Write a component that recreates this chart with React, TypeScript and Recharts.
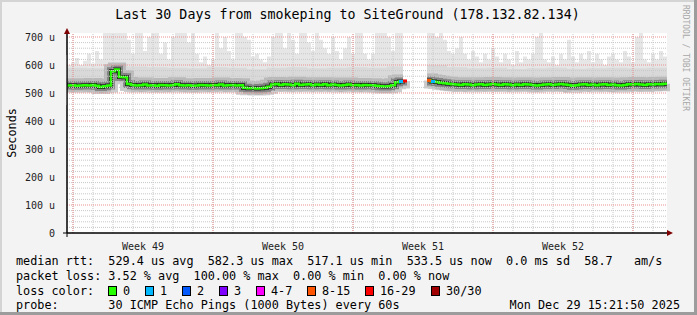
import React from "react";
import { ComposedChart, Area, Line, XAxis, YAxis, CartesianGrid, ReferenceLine } from "recharts";

const MONO = "'DejaVu Sans Mono', monospace";

// one sample every 0.2 day (4.8 h), 30 days
const median: (number | null)[] = [
  527, 528, 526, 527, 528, 527, 529, 526, 521, 524,
  527, 578, 584, 557, 556, 532, 529, 527, 528, 530,
  527, 528, 526, 529, 528, 527, 529, 531, 528, 527,
  528, 526, 527, 529, 528, 527, 529, 528, 530, 527,
  528, 529, 527, 528, 519, 517, 518, 516, 517, 519,
  522, 530, 532, 529, 531, 530, 528, 533, 529, 530,
  531, 528, 530, 529, 531, 528, 530, 529, 527, 529,
  530, 528, 529, 527, 529, 528, 528, 526, 524, 523,
  524, 528, 538, 541, 543, null, null, null, null, null,
  545, 541, 539, 537, 535, 533, 531, 530, 529, 531,
  530, 528, 530, 531, 529, 530, 532, 530, 529, 531,
  530, 528, 530, 529, 531, 530, 529, 527, 529, 530,
  531, 529, 530, 532, 530, 529, 526, 528, 530, 531,
  529, 530, 528, 530, 531, 529, 530, 528, 527, 529,
  531, 530, 532, 530, 529, 531, 530, 532, 531, 533,
  533,
];

const smokeLow: (number | null)[] = [
  505, 504, 505, 506, 505, 504, 505, 503, 500, 502,
  505, 565, 570, 545, 544, 510, 505, 506, 504, 505,
  507, 505, 504, 506, 505, 504, 506, 507, 505, 504,
  505, 503, 504, 506, 505, 504, 506, 505, 507, 504,
  505, 506, 504, 505, 496, 494, 495, 493, 494, 496,
  499, 507, 508, 506, 507, 506, 505, 508, 506, 507,
  508, 505, 507, 506, 508, 505, 507, 506, 504, 506,
  507, 505, 506, 504, 506, 505, 505, 503, 501, 500,
  501, 505, 514, 518, 520, null, null, null, null, null,
  522, 518, 514, 511, 509, 507, 506, 506, 507, 505,
  507, 508, 506, 507, 506, 508, 507, 506, 507, 508,
  505, 507, 506, 507, 508, 506, 505, 504, 506, 507,
  508, 506, 507, 506, 503, 505, 507, 508, 506, 507,
  505, 507, 508, 506, 507, 505, 504, 506, 508, 507,
  508, 506, 507, 506, 508, 507, 506, 508, 507, 509,
  509,
];

const smokeHigh: (number | null)[] = [
  600, 610, 625, 600, 615, 640, 605, 650, 620, 714,
  714, 714, 714, 714, 714, 690, 640, 714, 714, 650,
  700, 714, 714, 640, 680, 620, 700, 714, 714, 714,
  680, 714, 640, 610, 630, 600, 620, 714, 660, 700,
  650, 620, 714, 714, 700, 690, 630, 640, 620, 610,
  630, 700, 714, 714, 660, 714, 690, 640, 714, 714,
  680, 650, 714, 690, 660, 640, 700, 650, 620, 660,
  700, 640, 714, 714, 640, 620, 640, 714, 714, 714,
  700, 650, 714, 714, 714, null, null, null, null, null,
  714, 714, 700, 714, 690, 650, 640, 660, 700, 640,
  620, 650, 630, 610, 640, 620, 660, 630, 610, 640,
  620, 600, 650, 610, 630, 620, 640, 700, 714, 620,
  610, 630, 600, 640, 620, 690, 630, 610, 640, 620,
  650, 610, 640, 620, 600, 630, 640, 620, 610, 650,
  630, 610, 700, 714, 620, 610, 640, 620, 650, 630,
  630,
];

// upper edge of the denser smoke, one per day
const smokeMidDaily = [
  590, 588, 605, 595, 592, 590, 588, 592, 590, 585,
  590, 592, 588, 590, 592, 590, 595, 600, 600, 592,
  588, 590, 586, 588, 590, 587, 588, 590, 588, 590, 590,
];

const lossIndex = [83, 84, 90, 91];
const lossPings = [1, 18, 12, 1];

const weekLabels = ["Week 49", "Week 50", "Week 51", "Week 52"];
const weekLabelDays = [3.8, 10.8, 17.8, 24.8];
const weekStartDays = [0.3, 7.3, 14.3, 21.3, 28.3];
const dayLines = Array.from({ length: 30 }, (_, k) => 0.3 + k);
const yTicks = [0, 100, 200, 300, 400, 500, 600, 700];
const yMinor = Array.from({ length: 35 }, (_, k) => 20 + k * 20).filter((v) => v % 100 !== 0);

const legendRtt = "median rtt:  529.4 us avg  582.3 us max  517.1 us min  533.5 us now  0.0 ms sd  58.7   am/s";
const legendLoss = "packet loss: 3.52 % avg  100.00 % max  0.00 % min  0.00 % now";
const legendProbe = "probe:       30 ICMP Echo Pings (1000 Bytes) every 60s";
const legendDate = "Mon Dec 29 15:21:50 2025";

const lossLegend = [
  { label: "0", color: "#26ff00", x: 108 },
  { label: "1", color: "#00b8ff", x: 145 },
  { label: "2", color: "#0059ff", x: 182 },
  { label: "3", color: "#7e00ff", x: 219 },
  { label: "4-7", color: "#ff00ff", x: 256 },
  { label: "8-15", color: "#ff5500", x: 307 },
  { label: "16-29", color: "#ff0000", x: 365 },
  { label: "30/30", color: "#a10000", x: 431 },
];

function lossColor(n: number) {
  if (n <= 0) return "#26ff00";
  if (n === 1) return "#00b8ff";
  if (n === 2) return "#0059ff";
  if (n === 3) return "#7e00ff";
  if (n <= 7) return "#ff00ff";
  if (n <= 15) return "#ff5500";
  if (n <= 29) return "#ff0000";
  return "#a10000";
}

const data = median.map((m, i) => {
  const lo = smokeLow[i];
  const hi = smokeHigh[i];
  const mid = smokeMidDaily[Math.floor(i / 5)];
  const li = lossIndex.indexOf(i);
  return {
    t: i * 0.2,
    median: m,
    outer: lo == null || hi == null ? null : [lo, hi],
    inner: lo == null ? null : [lo, mid],
    loss: li >= 0 ? lossPings[li] : 0,
  };
});

const LossDot = (props: any) => {
  const { cx, cy, payload, index } = props;
  if (!payload || !payload.loss || cx == null || cy == null) return <g key={`ld${index}`} />;
  return <rect key={`ld${index}`} x={cx} y={cy - 1.5} width={4} height={3} fill={lossColor(payload.loss)} />;
};

const txt = { fontFamily: MONO, fontSize: 11.8, fill: "#000", whiteSpace: "pre" as const };

export default function App() {
  return (
    <div style={{ position: "absolute", left: 0, top: 0, width: 697, height: 315, background: "#f3f3f3" }}>
      <ComposedChart
        width={697}
        height={315}
        data={data}
        margin={{ top: 33, right: 30, bottom: 52, left: 17 }}
      >
        <CartesianGrid horizontal={false} vertical={false} fill="#ffffff" />
        <XAxis
          dataKey="t"
          type="number"
          domain={[0, 30]}
          ticks={weekLabelDays}
          tickFormatter={(v: number) => weekLabels[weekLabelDays.indexOf(v)] ?? ""}
          tickLine={false}
          axisLine={{ stroke: "#000" }}
          height={30}
          tick={{ fontFamily: MONO, fontSize: 10, fill: "#222" }}
          tickMargin={4}
        />
        <YAxis
          type="number"
          domain={[0, 714.3]}
          allowDataOverflow
          ticks={yTicks}
          tickFormatter={(v: number) => (v === 0 ? "0" : `${v} u`)}
          width={50}
          tickLine={false}
          axisLine={{ stroke: "#000" }}
          tick={{ fontFamily: MONO, fontSize: 10, fill: "#222" }}
          tickMargin={6}
          label={{ value: "Seconds", angle: -90, position: "insideLeft", dx: -10, style: { fontFamily: MONO, fontSize: 11.8, fill: "#000", textAnchor: "middle" } }}
        />
        <Area type="stepAfter" dataKey="outer" stroke="none" fill="#e6e6e6" fillOpacity={1} isAnimationActive={false} />
        <Area type="stepAfter" dataKey="inner" stroke="none" fill="#d9d9d9" fillOpacity={1} isAnimationActive={false} />
        <Line type="stepAfter" dataKey="median" stroke="#9a9a9a" strokeOpacity={0.5} strokeWidth={14} dot={false} isAnimationActive={false} />
        <Line type="stepAfter" dataKey="median" stroke="#606060" strokeOpacity={0.6} strokeWidth={8} dot={false} isAnimationActive={false} />
        <Line type="stepAfter" dataKey="median" stroke="#222222" strokeWidth={4} dot={false} isAnimationActive={false} />
        <Line type="stepAfter" dataKey="median" stroke="#26ff00" strokeWidth={2.5} dot={LossDot} activeDot={false} isAnimationActive={false} />
        {dayLines.map((d) => (
          <ReferenceLine key={`dl${d}`} x={d} stroke="#c8c8c8" strokeDasharray="1 1" />
        ))}
        {yMinor.map((v) => (
          <ReferenceLine key={`ym${v}`} y={v} stroke="#c8c8c8" strokeDasharray="1 1" />
        ))}
        {weekStartDays.map((d) => (
          <ReferenceLine key={`wl${d}`} x={d} stroke="#e89090" strokeDasharray="1 1" />
        ))}
        {yTicks.slice(1).map((v) => (
          <ReferenceLine key={`yM${v}`} y={v} stroke="#e89090" strokeDasharray="1 1" />
        ))}
      </ComposedChart>
      <svg width={697} height={315} style={{ position: "absolute", left: 0, top: 0, pointerEvents: "none" }}>
        <rect x={0} y={0} width={697} height={2} fill="#d4d4d4" />
        <rect x={0} y={0} width={2} height={315} fill="#d4d4d4" />
        <rect x={694} y={0} width={3} height={315} fill="#9c9c9c" />
        <rect x={0} y={312} width={697} height={3} fill="#9c9c9c" />
        <rect x={60.5} y={55} width={6} height={50} fill="#f3f3f3" />
        <line x1={63} y1={233} x2={670} y2={233} stroke="#000" strokeWidth={1} />
        <line x1={67} y1={237} x2={67} y2={30} stroke="#000" strokeWidth={1} />
        <polygon points="64,34 70,34 67,28" fill="#7f0000" />
        <polygon points="667,230 667,236 673,233" fill="#7f0000" />
        <text x={347.5} y={18.5} textAnchor="middle" style={{ fontFamily: MONO, fontSize: 13.3, fill: "#000" }}>
          Last 30 Days from smokeping to SiteGround (178.132.82.134)
        </text>
        <text transform="translate(683,5) rotate(90)" style={{ fontFamily: MONO, fontSize: 8, fill: "#a8a8a8" }}>
          RRDTOOL / TOBI OETIKER
        </text>
        <text x={16} y={265} xmlSpace="preserve" style={txt}>{legendRtt}</text>
        <text x={16} y={280} xmlSpace="preserve" style={txt}>{legendLoss}</text>
        <text x={16} y={295} style={txt}>loss color:</text>
        {lossLegend.map((l) => (
          <g key={l.label}>
            <rect x={l.x + 0.5} y={286.5} width={8} height={9} fill={l.color} stroke="#000" strokeWidth={1} />
            <text x={l.x + 15} y={295} style={txt}>{l.label}</text>
          </g>
        ))}
        <text x={16} y={309} xmlSpace="preserve" style={txt}>{legendProbe}</text>
        <text x={680} y={309} textAnchor="end" style={txt}>{legendDate}</text>
      </svg>
    </div>
  );
}
